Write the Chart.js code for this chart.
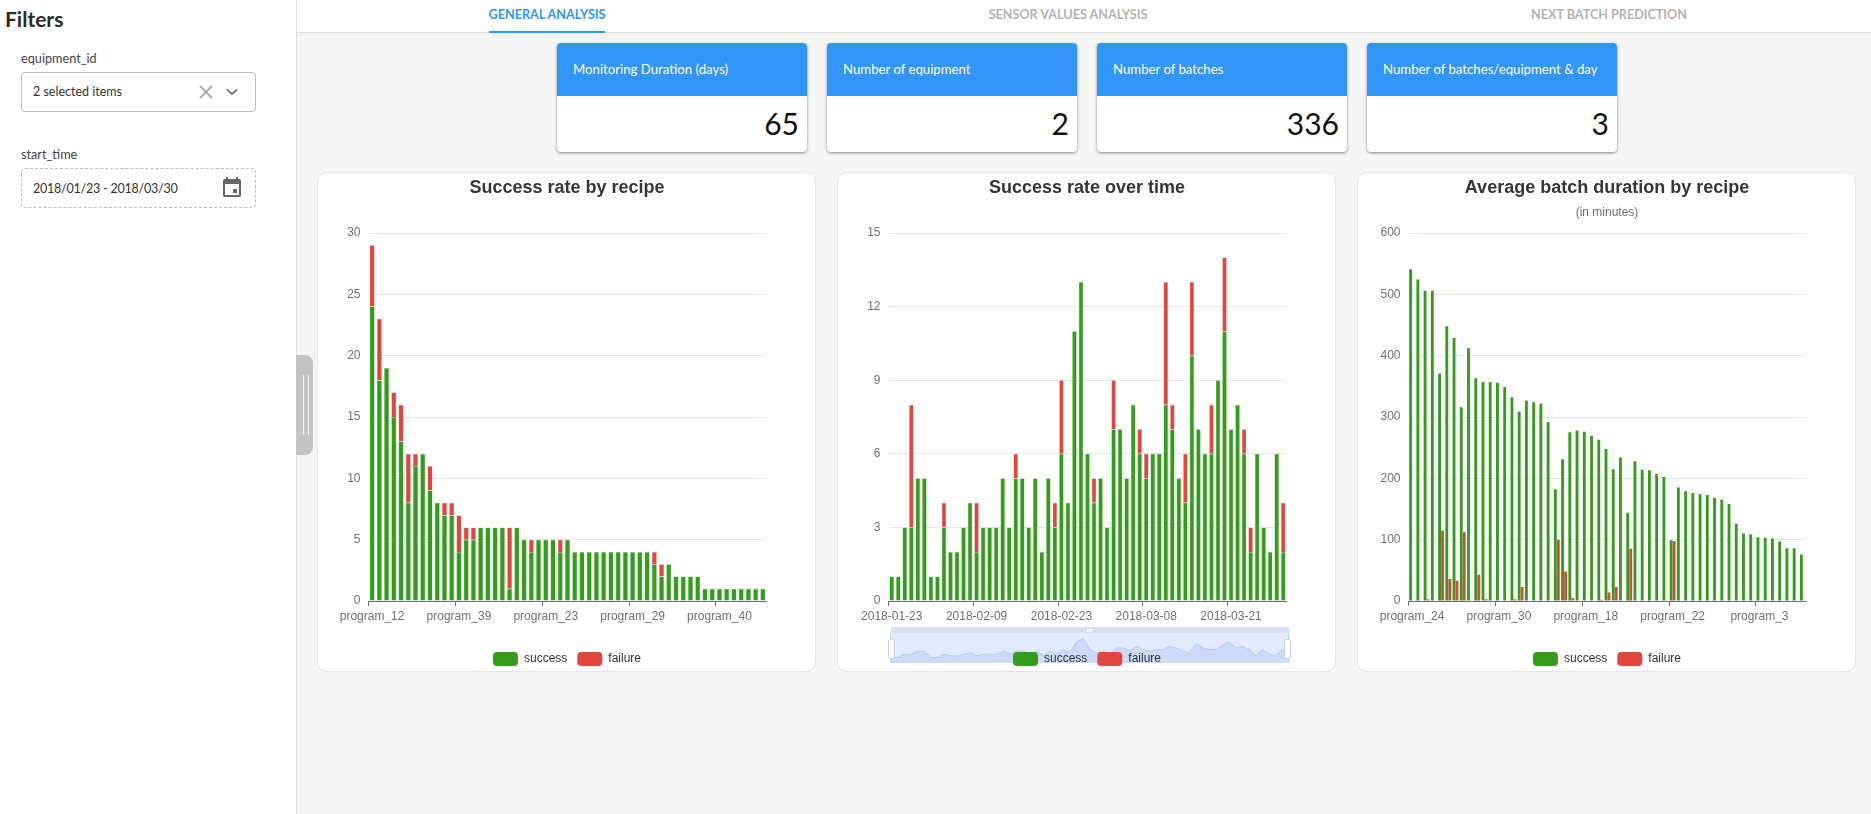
<!DOCTYPE html>
<html>
<head>
<meta charset="utf-8">
<script src="https://cdn.jsdelivr.net/npm/chart.js@4/dist/chart.umd.min.js"></script>
<style>
html,body{margin:0;padding:0;width:1871px;height:814px;overflow:hidden;background:#f5f5f5;font-family:Lato,sans-serif;color:#333}
.abs{position:absolute}
#side{left:0;top:0;width:296px;height:814px;background:#fff;border-right:1px solid #e0e0e0}
#tabs{left:297px;top:0;width:1574px;height:32px;background:#fff;border-bottom:1px solid #dcdcdc}
.tab{position:absolute;top:15px;transform:translate(-50%,-50%);font-size:12.6px;font-weight:700;color:#b2b2b2;white-space:nowrap;line-height:1}
.kpi{position:absolute;top:43px;width:250px;height:109px;background:#fff;border-radius:4px;box-shadow:0 1px 3px rgba(0,0,0,.45);overflow:hidden}
.kpi .h{height:53px;background:#3295fa;color:#fff;font-size:13.2px;line-height:52px;padding-left:16px;white-space:nowrap}
.kpi .v{position:absolute;right:8px;top:53px;height:56px;line-height:55px;font-size:30px;color:#111}
.card{position:absolute;top:172px;width:497px;height:498px;background:#fff;border:1px solid #e6e6e6;border-radius:10px}
canvas.main{position:absolute;top:172px;z-index:3}
#spark{position:absolute;left:891px;top:633px;z-index:2}
</style>
</head>
<body>
<div id="side" class="abs"></div>
<div class="abs" style="left:5px;top:5px;font-size:21px;font-weight:700;color:#2b2b2b;line-height:28px">Filters</div>
<div class="abs" style="left:21px;top:50px;font-size:12.7px;line-height:16px;color:#444">equipment_id</div>
<div class="abs" style="left:21px;top:72px;width:233px;height:38px;border:1px solid #bdbdbd;border-radius:4px;background:#fff"></div>
<div class="abs" style="left:33px;top:83px;font-size:12.5px;line-height:18px;color:#333">2 selected items</div>
<svg class="abs" style="left:198px;top:84px" width="16" height="16" viewBox="0 0 16 16"><path d="M2 2L14 14M14 2L2 14" stroke="#aaa" stroke-width="1.8" fill="none"/></svg>
<svg class="abs" style="left:226px;top:87px" width="12" height="10" viewBox="0 0 12 10"><path d="M1 2.5L6 7L11 2.5" stroke="#555" stroke-width="1.6" fill="none"/></svg>
<div class="abs" style="left:21px;top:146px;font-size:12.7px;line-height:16px;color:#444">start_time</div>
<div class="abs" style="left:21px;top:168px;width:233px;height:38px;border:1px dashed #bdbdbd;border-radius:4px;background:#fff"></div>
<div class="abs" style="left:33px;top:180px;font-size:12.5px;letter-spacing:-.22px;line-height:18px;color:#333">2018/01/23 - 2018/03/30</div>
<svg class="abs" style="left:222px;top:176px" width="20" height="22" viewBox="0 0 20 22"><path d="M4 1v2H2.5A1.5 1.5 0 0 0 1 4.500V19.500A1.500 1.500 0 0 0 2.500 21h15a1.500 1.500 0 0 0 1.500-1.500V4.500A1.500 1.500 0 0 0 17.500 3H16V1h-2v2H6V1zM3 8h14v11H3z" fill="#666"/><rect x="11" y="13" width="4" height="4" fill="#666"/></svg>
<div class="abs" style="left:296px;top:355px;width:17px;height:100px;background:#c4c4c4;border-radius:0 8px 8px 0"></div>
<div class="abs" style="left:303px;top:375px;width:4px;height:60px;border-left:1px solid #eee;border-right:1px solid #eee"></div>

<div id="tabs" class="abs"></div>
<div class="tab" style="left:547px;color:#3295fa">GENERAL ANALYSIS</div>
<div class="tab" style="left:1068px">SENSOR VALUES ANALYSIS</div>
<div class="tab" style="left:1609px">NEXT BATCH PREDICTION</div>
<div class="abs" style="left:489px;top:31px;width:116px;height:2px;background:#3295fa"></div>

<div class="kpi" style="left:557px"><div class="h">Monitoring Duration (days)</div><div class="v">65</div></div>
<div class="kpi" style="left:827px"><div class="h">Number of equipment</div><div class="v">2</div></div>
<div class="kpi" style="left:1097px"><div class="h">Number of batches</div><div class="v">336</div></div>
<div class="kpi" style="left:1367px"><div class="h">Number of batches/equipment &amp; day</div><div class="v">3</div></div>

<div class="card" style="left:317px"></div>
<div class="card" style="left:837px"></div>
<div class="card" style="left:1357px"></div>

<!-- data-zoom slider furniture of the middle chart -->
<div class="abs" style="left:891px;top:627px;width:398px;height:6px;background:#d8e0ef;z-index:1"></div>
<div class="abs" style="left:1087px;top:629px;width:1px;height:3px;background:#fff;box-shadow:2px 0 0 #fff,4px 0 0 #fff;z-index:1"></div>
<div class="abs" style="left:891px;top:633px;width:398px;height:30px;background:#e1ebfd;z-index:1"></div>
<canvas id="spark" width="398" height="30" style="width:398px;height:30px"></canvas>
<div class="abs" style="left:890px;top:633px;width:1px;height:30px;background:#c3d0ec;z-index:2"></div>
<div class="abs" style="left:1288px;top:633px;width:1px;height:30px;background:#c3d0ec;z-index:2"></div>
<div class="abs" style="left:888px;top:639px;width:5px;height:18px;background:#fff;border:1px solid #c6d2ee;border-radius:2px;z-index:2"></div>
<div class="abs" style="left:1284px;top:639px;width:5px;height:18px;background:#fff;border:1px solid #c6d2ee;border-radius:2px;z-index:2"></div>

<canvas id="c1" class="main" style="left:318px;width:498px;height:504px" width="498" height="504"></canvas>
<canvas id="c2" class="main" style="left:838px;width:498px;height:504px" width="498" height="504"></canvas>
<canvas id="c3" class="main" style="left:1358px;width:498px;height:504px" width="498" height="504"></canvas>

<script>
const GREEN = '#339c1b', RED = '#e04640', GREEN_EDGE = '#8cc97c', RED_EDGE = '#f0a3a0';
const seriesNames = ['success', 'failure'];

// Success rate by recipe
const recipeTickLabels = ['program_12', 'program_39', 'program_23', 'program_29', 'program_40'];
const recipeSuccess = [24,18,19,15,13,8,11,12,9,8,7,7,4,5,5,6,6,6,6,1,6,5,4,5,5,5,4,5,4,4,4,4,4,4,4,4,4,4,4,3,2,3,2,2,2,2,1,1,1,1,1,1,1,1,1];
const recipeFailure = [5,5,0,2,3,4,1,0,2,0,1,1,3,1,1,0,0,0,0,5,0,0,1,0,0,0,1,0,0,0,0,0,0,0,0,0,0,0,0,1,1,0,0,0,0,0,0,0,0,0,0,0,0,0,0];

// Success rate over time
const timeTickLabels = ['2018-01-23', '2018-02-09', '2018-02-23', '2018-03-08', '2018-03-21'];
const timeSuccess = [1,1,3,3,5,5,1,1,3,2,2,3,4,2,3,3,3,5,3,5,5,3,5,2,5,3,6,4,11,13,6,4,5,3,7,7,5,8,6,5,6,6,8,7,5,4,10,7,6,6,9,11,7,8,6,2,6,3,2,6,2];
const timeFailure = [0,0,0,5,0,0,0,0,1,0,0,0,0,2,0,0,0,0,0,1,0,0,0,0,0,1,3,0,0,0,0,1,0,0,2,0,0,0,1,1,0,0,5,1,0,2,3,0,0,2,0,3,0,0,1,1,0,0,0,0,2];

// Average batch duration by recipe
const durationTickLabels = ['program_24', 'program_30', 'program_18', 'program_22', 'program_3'];
const durationSuccess = [541,524,506,506,371,448,429,316,412,363,357,357,356,349,332,309,327,324,322,292,182,231,275,278,276,269,263,248,215,234,144,228,214,213,207,202,99,185,179,176,174,173,168,165,158,126,110,109,104,103,102,97,86,86,76];
const durationFailure = [0,0,3,0,115,36,33,112,0,43,3,0,0,0,3,23,0,0,0,0,100,48,5,0,0,0,2,14,23,0,85,0,0,0,0,0,98,0,0,0,0,0,0,0,0,0,0,0,0,0,0,0,0,0,0];

const AXIS = '#6E7079', GRID = '#E0E6F1', FONT = '"Liberation Sans", Arial, sans-serif';

function makeChart(id, opt) {
  const every = opt.every, n = opt.success.length;
  const labels = opt.success.map((_, i) => i % every === 0 ? opt.ticks[i / every] : '');
  const ds = (label, data, color, edge) => ({
    label, data, backgroundColor: color, borderColor: edge, borderWidth: opt.edge,
    categoryPercentage: opt.cat, barPercentage: opt.bar
  });
  const plugins = {
    tooltip: {enabled: false},
    title: {display: true, text: opt.title, color: '#363636', font: {family: FONT, size: 18, weight: 'bold'},
            padding: {top: 5, bottom: opt.subtitle ? 3 : 34.4}},
    legend: {position: 'bottom', labels: {
      boxWidth: 25, boxHeight: 14, padding: 10, color: '#333', useBorderRadius: true, borderRadius: 4,
      font: {family: FONT, size: 12},
      generateLabels: chart => chart.data.datasets.map((d, i) => ({
        text: d.label, fillStyle: d.backgroundColor, strokeStyle: d.backgroundColor, lineWidth: 0,
        borderRadius: 4, datasetIndex: i, fontColor: '#333'
      }))
    }}
  };
  if (opt.subtitle) {
    plugins.subtitle = {display: true, text: opt.subtitle, color: AXIS, font: {family: FONT, size: 12, weight: 'normal'},
                        padding: {top: 4.2, bottom: 12.8}};
  }
  return new Chart(document.getElementById(id), {
    type: 'bar',
    data: {labels, datasets: [ds(seriesNames[0], opt.success, GREEN, GREEN_EDGE), ds(seriesNames[1], opt.failure, RED, RED_EDGE)]},
    options: {
      responsive: false, animation: false, devicePixelRatio: 1,
      plugins,
      scales: {
        x: {
          stacked: opt.stacked,
          afterFit: s => { s.height = 41; },
          grid: {
            offset: true, drawOnChartArea: false, drawTicks: true, tickLength: 5,
            tickColor: c => (c.index === n || c.index % every === 0) ? AXIS : 'rgba(0,0,0,0)'
          },
          border: {display: true, color: AXIS},
          ticks: {autoSkip: false, maxRotation: 0, minRotation: 0, color: AXIS, padding: 3, font: {family: FONT, size: 12}}
        },
        y: {
          stacked: opt.stacked, min: 0, max: opt.max,
          afterFit: s => { s.width = 50.5; },
          grid: {color: GRID, drawTicks: false},
          border: {display: false},
          ticks: {stepSize: opt.step, color: AXIS, padding: 8, font: {family: FONT, size: 12}}
        },
        // empty right-hand axis: reserves the right margin so title and legend stay centred on the card
        margin: {
          position: 'right', min: 0, max: 1,
          afterFit: s => { s.width = 49.5; },
          grid: {display: false}, border: {display: false}, ticks: {display: false}
        }
      }
    }
  });
}

makeChart('c1', {title: 'Success rate by recipe', success: recipeSuccess, failure: recipeFailure,
  ticks: recipeTickLabels, every: 12, max: 30, step: 5, stacked: true, cat: 0.7, bar: 1, edge: 0.5});
makeChart('c2', {title: 'Success rate over time', success: timeSuccess, failure: timeFailure,
  ticks: timeTickLabels, every: 13, max: 15, step: 3, stacked: true, cat: 0.7, bar: 1, edge: 0.5});
makeChart('c3', {title: 'Average batch duration by recipe', subtitle: '(in minutes)', success: durationSuccess, failure: durationFailure,
  ticks: durationTickLabels, every: 12, max: 600, step: 100, stacked: false, cat: 0.83, bar: 0.95, edge: 0});

// slider shadow of the middle chart
new Chart(document.getElementById('spark'), {
  type: 'line',
  data: {labels: timeSuccess.map((_, i) => i), datasets: [{
    data: timeSuccess, borderColor: '#b8cbf5', borderWidth: 1, backgroundColor: '#ccdafa',
    fill: 'start', pointRadius: 0, tension: 0
  }]},
  options: {
    responsive: false, animation: false, devicePixelRatio: 1,
    plugins: {legend: {display: false}, tooltip: {enabled: false}},
    scales: {x: {display: false, offset: false}, y: {display: false, min: -2.6, max: 16.6}}
  }
});
</script>
</body>
</html>
